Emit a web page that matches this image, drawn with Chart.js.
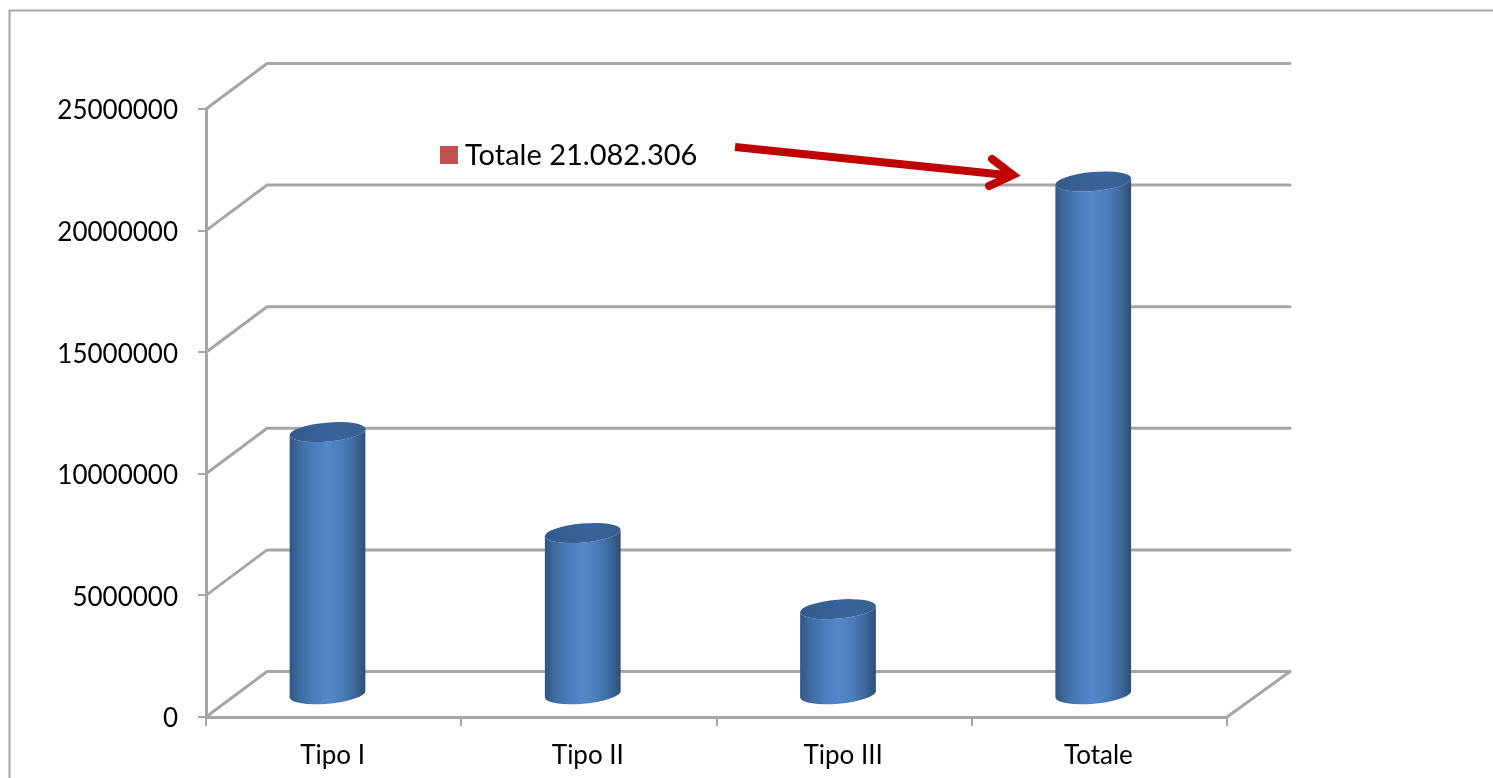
<!DOCTYPE html>
<html>
<head>
<meta charset="utf-8">
<style>
  html, body { margin: 0; padding: 0; background: #fff; overflow: hidden; }
  canvas { display: block; }
</style>
<script src="https://cdn.jsdelivr.net/npm/chart.js@4"></script>
</head>
<body>
<canvas id="chart" width="1493" height="778"></canvas>
<script>
// Chart data
const categories = ['Tipo I', 'Tipo II', 'Tipo III', 'Totale'];
const seriesValues = [10780000, 6630000, 3500000, 21082306];
const axisTicks = [0, 5000000, 10000000, 15000000, 20000000, 25000000];
const calloutText = 'Totale 21.082.306';

// Look of the pseudo-3D frame
const AXIS_GREY = '#a6a6a6';
const FONT = 'Lato, "Open Sans", sans-serif';
const DEPTH_X = 61, DEPTH_Y = 45.5;
const TILT = -5 * Math.PI / 180;
const CAP_RY = 9.5;

// Back wall, side wall and floor lines, projected from the front-plane scale
const wallPlugin = {
  id: 'wall',
  beforeDatasetsDraw(chart) {
    const { ctx, scales: { y }, chartArea: a } = chart;
    ctx.save();
    ctx.strokeStyle = AXIS_GREY;
    ctx.lineWidth = 3;
    ctx.lineCap = 'round';
    axisTicks.forEach(v => {
      const py = y.getPixelForValue(v);
      ctx.beginPath();
      ctx.moveTo(a.left, py);
      ctx.lineTo(a.left + DEPTH_X, py - DEPTH_Y);
      ctx.lineTo(a.right + DEPTH_X + 2, py - DEPTH_Y);
      ctx.stroke();
    });
    ctx.beginPath();
    ctx.moveTo(a.right, a.bottom);
    ctx.lineTo(a.right + DEPTH_X + 2, a.bottom - DEPTH_Y);
    ctx.stroke();
    ctx.restore();
  }
};

// Cylinders in place of the flat rectangles, at the positions the bar scales give
const cylinderPlugin = {
  id: 'cylinder',
  beforeDatasetDraw(chart, args) {
    const { ctx } = chart;
    args.meta.data.forEach(bar => {
      const { x, y, base, width } = bar.getProps(['x', 'y', 'base', 'width'], true);
      const rx = width / 2;
      const side = ctx.createLinearGradient(x - rx, 0, x + rx, 0);
      side.addColorStop(0, '#2f5584');
      side.addColorStop(0.12, '#3d699f');
      side.addColorStop(0.3, '#4a7cb9');
      side.addColorStop(0.5, '#5487c9');
      side.addColorStop(0.7, '#4a7cb8');
      side.addColorStop(0.88, '#3b6595');
      side.addColorStop(1, '#2c4e78');

      ctx.save();
      ctx.fillStyle = side;
      ctx.beginPath();
      ctx.ellipse(x, y, rx, CAP_RY, TILT, Math.PI, 0, true);
      ctx.ellipse(x, base, rx, CAP_RY, TILT, 0, Math.PI, false);
      ctx.closePath();
      ctx.fill();

      const cap = ctx.createLinearGradient(x - rx, y, x + rx, y);
      cap.addColorStop(0, '#33598a');
      cap.addColorStop(0.6, '#39649a');
      cap.addColorStop(1, '#385f8e');
      ctx.fillStyle = cap;
      ctx.beginPath();
      ctx.ellipse(x, y, rx, CAP_RY, TILT, 0, Math.PI * 2);
      ctx.fill();
      ctx.restore();
    });
    return false;
  }
};

// Outer frame, callout swatch and text, and the arrow towards the total
const annotationPlugin = {
  id: 'annotation',
  afterDraw(chart) {
    const { ctx } = chart;
    ctx.save();
    ctx.strokeStyle = AXIS_GREY;
    ctx.lineWidth = 2;
    ctx.beginPath();
    ctx.moveTo(9.5, 778);
    ctx.lineTo(9.5, 10.5);
    ctx.lineTo(1493, 10.5);
    ctx.stroke();

    ctx.fillStyle = '#c0504d';
    ctx.fillRect(440, 146, 18, 18);
    ctx.fillStyle = '#000';
    ctx.font = '29px ' + FONT;
    ctx.textAlign = 'left';
    ctx.textBaseline = 'middle';
    ctx.fillText(calloutText, 465, 156);

    ctx.strokeStyle = '#c00000';
    ctx.lineWidth = 8;
    ctx.lineJoin = 'miter';
    ctx.beginPath();
    ctx.moveTo(735, 147);
    ctx.lineTo(1006, 175);
    ctx.stroke();
    ctx.lineCap = 'round';
    ctx.beginPath();
    ctx.moveTo(992, 159);
    ctx.lineTo(1013, 175);
    ctx.lineTo(989, 186);
    ctx.stroke();
    ctx.restore();
  }
};

new Chart(document.getElementById('chart'), {
  type: 'bar',
  data: {
    labels: categories,
    datasets: [{
      label: 'Totale',
      data: categories.map((c, i) => ({ x: i, y: seriesValues[i] })),
      backgroundColor: '#4f81bd',
      xAxisID: 'xBar',
      yAxisID: 'yBar',
      barThickness: 76
    }]
  },
  options: {
    responsive: false,
    animation: false,
    layout: { padding: { left: 0, top: 109, right: 266, bottom: 0 } },
    plugins: { legend: { display: false }, tooltip: { enabled: false } },
    scales: {
      // Front plane: the visible axes
      x: {
        type: 'category',
        labels: categories,
        offset: true,
        afterFit(s) { s.height = 61; },
        border: { color: AXIS_GREY, width: 3 },
        grid: { offset: true, drawOnChartArea: false, color: AXIS_GREY, lineWidth: 2, tickLength: 9 },
        ticks: { color: '#000', font: { family: FONT, size: 26 }, padding: 14, maxRotation: 0, labelOffset: -1 }
      },
      y: {
        type: 'linear',
        min: 0,
        max: 25000000,
        afterFit(s) { s.width = 206; },
        border: { color: AXIS_GREY, width: 3 },
        grid: { drawOnChartArea: false, color: AXIS_GREY, lineWidth: 2, tickLength: 8 },
        ticks: {
          color: '#000', stepSize: 5000000, padding: 20, labelOffset: 2,
          font: { family: FONT, size: 26 },
          callback: v => String(v)
        }
      },
      // Mid-depth plane the cylinders stand on, same pixel scale as the axes
      xBar: { type: 'linear', axis: 'x', display: false, offset: false, min: -0.476, max: 3.524 },
      yBar: { type: 'linear', axis: 'y', display: false, min: -935000, max: 24065000 }
    }
  },
  plugins: [wallPlugin, cylinderPlugin, annotationPlugin]
});
</script>
</body>
</html>
